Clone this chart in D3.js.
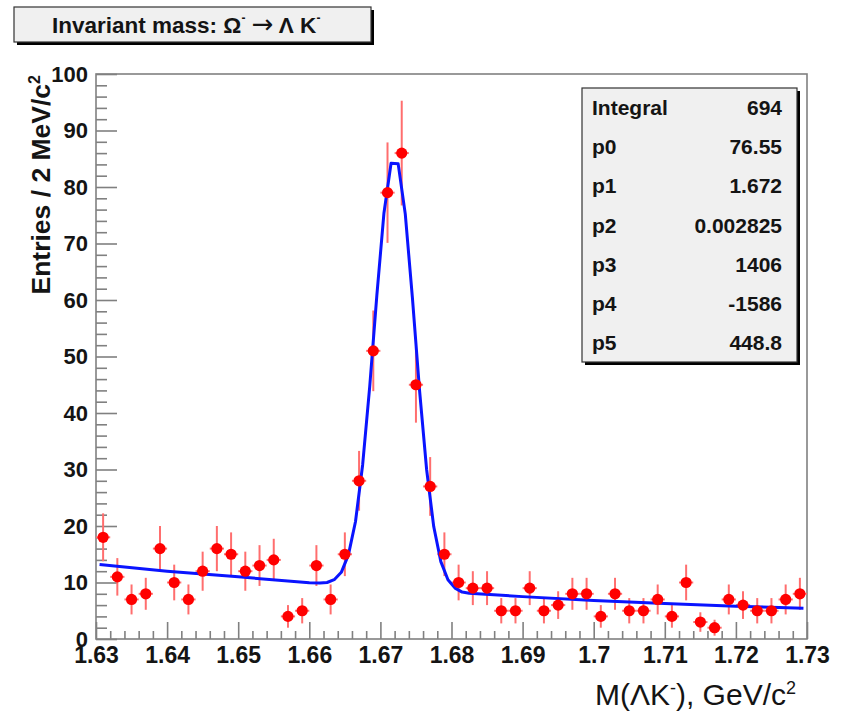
<!DOCTYPE html>
<html>
<head>
<meta charset="utf-8">
<script src="https://cdn.jsdelivr.net/npm/d3@7"></script>
<style>
  html, body { margin: 0; padding: 0; background: #ffffff; }
  svg { display: block; }
  text { font-family: "Liberation Sans", Arial, Helvetica, sans-serif; fill: #141414; }
</style>
</head>
<body>
<div id="chart"></div>
<script>
// ---- data ----
const binCenters = [1.631,1.633,1.635,1.637,1.639,1.641,1.643,1.645,1.647,1.649,
                    1.651,1.653,1.655,1.657,1.659,1.661,1.663,1.665,1.667,1.669,
                    1.671,1.673,1.675,1.677,1.679,1.681,1.683,1.685,1.687,1.689,
                    1.691,1.693,1.695,1.697,1.699,1.701,1.703,1.705,1.707,1.709,
                    1.711,1.713,1.715,1.717,1.719,1.721,1.723,1.725,1.727,1.729];
const counts = [18,11,7,8,16,10,7,12,16,15,
                12,13,14,4,5,13,7,15,28,51,
                79,86,45,27,15,10,9,9,5,5,
                9,5,6,8,8,4,8,5,5,7,
                4,10,3,2,7,6,5,5,7,8];
const errors = [4.24,3.32,2.65,2.83,4.0,3.16,2.65,3.46,4.0,3.87,
                3.46,3.61,3.74,2.0,2.24,3.61,2.65,3.87,5.29,7.14,
                8.89,9.27,6.71,5.2,3.87,3.16,3.0,3.0,2.24,2.24,
                3.0,2.24,2.45,2.83,2.83,2.0,2.83,2.24,2.24,2.65,
                2.0,3.16,1.73,1.41,2.65,2.45,2.24,2.24,2.65,2.83];
const binHalfWidth = 0.001;

// fit curve sampled as drawn in the picture
const fitMass  = [1.6305,1.64,1.65,1.66,1.6615,1.6625,1.6635,1.6645,1.6655,1.6665,
                  1.6675,1.6685,1.6695,1.6705,1.6715,1.6725,1.6735,1.6745,1.6755,1.6765,
                  1.6775,1.6785,1.6795,1.6805,1.6815,1.6825,1.69,1.70,1.71,1.72,1.7295];
const fitValue = [13.2,12.0,11.0,9.95,9.9,10.0,10.5,11.8,14.9,20.8,
                  30.8,44.7,60.8,75.4,84.2,84.1,75.2,60.4,44.1,30.0,
                  19.9,13.7,10.5,9.0,8.3,8.1,7.5,6.8,6.3,5.8,5.45];

const xTickValues = [1.63,1.64,1.65,1.66,1.67,1.68,1.69,1.70,1.71,1.72,1.73];
const xTickLabels = ["1.63","1.64","1.65","1.66","1.67","1.68","1.69","1.7","1.71","1.72","1.73"];
const yTickValues = [0,10,20,30,40,50,60,70,80,90,100];
const yTickLabels = ["0","10","20","30","40","50","60","70","80","90","100"];

const statsLabels = ["Integral","p0","p1","p2","p3","p4","p5"];
const statsValues = ["694","76.55","1.672","0.002825","1406","-1586","448.8"];

// ---- layout ----
const W = 842, H = 721;
const frame = {left: 96, right: 807, top: 74, bottom: 639};

const svg = d3.select("#chart").append("svg").attr("width", W).attr("height", H);

const x = d3.scaleLinear().domain([1.63, 1.73]).range([frame.left, frame.right]);
const y = d3.scaleLinear().domain([0, 100]).range([frame.bottom, frame.top]);

const axisGrey = "#808080";

// frame
svg.append("rect")
  .attr("x", frame.left).attr("y", frame.top)
  .attr("width", frame.right - frame.left).attr("height", frame.bottom - frame.top)
  .attr("fill", "#ffffff").attr("stroke", axisGrey).attr("stroke-width", 1.6);

// minor ticks
const xMinor = d3.range(1.632, 1.7299, 0.002).filter(v => Math.abs(Math.round(v*100) - v*100) > 1e-6);
const yMinor = d3.range(2, 100, 2).filter(v => v % 10 !== 0);

const xMinorAxis = d3.axisBottom(x).tickValues(xMinor).tickSize(-8).tickFormat("");
const xMajorAxis = d3.axisBottom(x).tickValues(xTickValues).tickSize(-17).tickPadding(8)
  .tickFormat((d, i) => xTickLabels[i]);
const yMinorAxis = d3.axisLeft(y).tickValues(yMinor).tickSize(-11).tickFormat("");
const yMajorAxis = d3.axisLeft(y).tickValues(yTickValues).tickSize(-21).tickPadding(8)
  .tickFormat((d, i) => yTickLabels[i]);

function styleAxis(g) {
  g.select(".domain").remove();
  g.selectAll(".tick line").attr("stroke", axisGrey).attr("stroke-width", 1.6);
  g.selectAll(".tick text")
    .attr("fill", "#141414")
    .style("font-family", '"Liberation Sans", Arial, sans-serif')
    .style("font-weight", "bold");
}

svg.append("g").attr("transform", `translate(0,${frame.bottom})`).call(xMinorAxis).call(styleAxis);
const gx = svg.append("g").attr("transform", `translate(0,${frame.bottom})`).call(xMajorAxis).call(styleAxis);
gx.selectAll(".tick text").style("font-size", "23px");
svg.append("g").attr("transform", `translate(${frame.left},0)`).call(yMinorAxis).call(styleAxis);
const gy = svg.append("g").attr("transform", `translate(${frame.left},0)`).call(yMajorAxis).call(styleAxis);
gy.selectAll(".tick text").style("font-size", "22px");

// clip for data
svg.append("clipPath").attr("id", "plotClip").append("rect")
  .attr("x", frame.left).attr("y", frame.top)
  .attr("width", frame.right - frame.left).attr("height", frame.bottom - frame.top);

const plot = svg.append("g").attr("clip-path", "url(#plotClip)");

const points = binCenters.map((m, i) => ({m, n: counts[i], e: errors[i]}));

// error bars
const errColor = "#ff6e6e";
plot.selectAll("line.ev").data(points).join("line")
  .attr("class", "ev")
  .attr("x1", d => x(d.m)).attr("x2", d => x(d.m))
  .attr("y1", d => y(d.n - d.e)).attr("y2", d => y(d.n + d.e))
  .attr("stroke", errColor).attr("stroke-width", 2);
plot.selectAll("line.eh").data(points).join("line")
  .attr("class", "eh")
  .attr("x1", d => x(d.m - binHalfWidth)).attr("x2", d => x(d.m + binHalfWidth))
  .attr("y1", d => y(d.n)).attr("y2", d => y(d.n))
  .attr("stroke", errColor).attr("stroke-width", 2);

// fit curve
const fitLine = d3.line().x(d => x(d[0])).y(d => y(d[1]));
plot.append("path")
  .datum(fitMass.map((m, i) => [m, fitValue[i]]))
  .attr("d", fitLine)
  .attr("fill", "none").attr("stroke", "#0a14ff").attr("stroke-width", 3)
  .attr("stroke-linejoin", "round");

// markers
plot.selectAll("circle.pt").data(points).join("circle")
  .attr("class", "pt")
  .attr("cx", d => x(d.m)).attr("cy", d => y(d.n))
  .attr("r", 5.6).attr("fill", "#ff0000");

// ---- y-axis title ----
const yTitle = svg.append("text")
  .attr("transform", "translate(50,75) rotate(-90)")
  .attr("text-anchor", "end")
  .style("font-size", "26.5px").style("font-weight", "bold");
yTitle.append("tspan").text("Entries / 2 MeV/c");
yTitle.append("tspan").attr("dy", -10).style("font-size", "16px").text("2");

// ---- x-axis title ----
const xTitle = svg.append("text")
  .attr("x", 796).attr("y", 705)
  .attr("text-anchor", "end")
  .style("font-size", "30px").style("font-weight", "normal");
xTitle.append("tspan").text("M(ΛK");
xTitle.append("tspan").attr("dy", -11).style("font-size", "18px").text("-");
xTitle.append("tspan").attr("dy", 11).text("), GeV/c");
xTitle.append("tspan").attr("dy", -11).style("font-size", "18px").text("2");

// ---- title box ----
const tb = {x: 14, y: 7, w: 357, h: 35};
svg.append("rect").attr("x", tb.x + 3).attr("y", tb.y + 3).attr("width", tb.w).attr("height", tb.h).attr("fill", "#000");
svg.append("rect").attr("x", tb.x).attr("y", tb.y).attr("width", tb.w).attr("height", tb.h)
  .attr("fill", "#f0f0f0").attr("stroke", "#333").attr("stroke-width", 1.2);
const title = svg.append("text")
  .attr("x", 52).attr("y", 33)
  .style("font-size", "22.5px").style("font-weight", "bold");
title.append("tspan").text("Invariant mass: Ω");
title.append("tspan").attr("dy", -11).style("font-size", "12px").text("-");
title.append("tspan").attr("dy", 11).text(" ");
title.append("tspan").style("font-family", '"DejaVu Sans", sans-serif').style("font-size", "26px")
  .style("font-weight", "normal").text("→");
title.append("tspan").text(" Λ K");
title.append("tspan").attr("dy", -11).style("font-size", "12px").text("-");

// ---- stats box ----
const sb = {x: 582, y: 88, w: 215, h: 274};
svg.append("rect").attr("x", sb.x + 3).attr("y", sb.y + 3).attr("width", sb.w).attr("height", sb.h).attr("fill", "#000");
svg.append("rect").attr("x", sb.x).attr("y", sb.y).attr("width", sb.w).attr("height", sb.h)
  .attr("fill", "#f0f0f0").attr("stroke", "#333").attr("stroke-width", 1.2);
const rowScale = d3.scaleBand().domain(statsLabels).range([sb.y, sb.y + sb.h]);
const rows = svg.selectAll("g.row").data(statsLabels).join("g").attr("class", "row")
  .attr("transform", d => `translate(0,${rowScale(d) + rowScale.bandwidth() / 2})`);
rows.append("text").attr("x", sb.x + 10).attr("dy", "0.36em")
  .style("font-size", "21px").style("font-weight", "bold").text(d => d);
rows.append("text").attr("x", sb.x + sb.w - 15).attr("dy", "0.36em").attr("text-anchor", "end")
  .style("font-size", "21px").style("font-weight", "bold").text((d, i) => statsValues[i]);
</script>
</body>
</html>
